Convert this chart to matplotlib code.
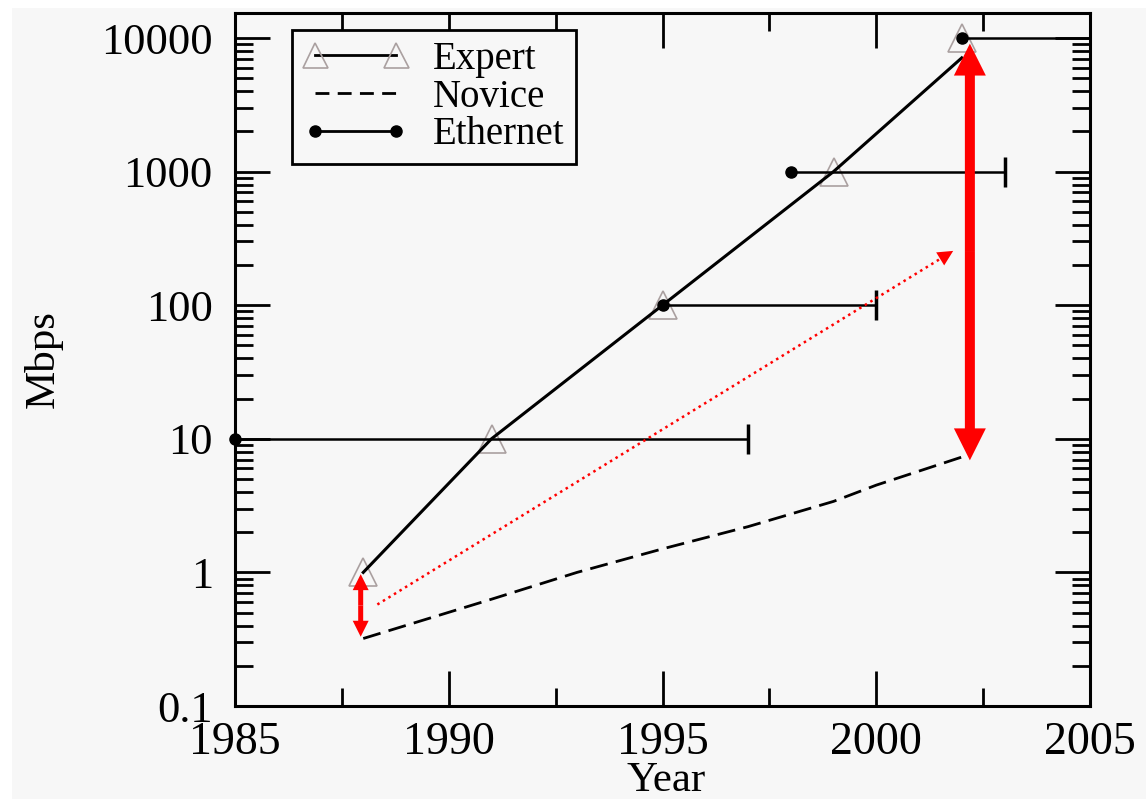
import matplotlib
matplotlib.use("Agg")
import matplotlib.pyplot as plt
from matplotlib.lines import Line2D
from matplotlib.patches import FancyArrowPatch, Rectangle, ArrowStyle
from matplotlib.ticker import MultipleLocator, LogLocator, FuncFormatter, NullFormatter

# ---- data ----
expert_years = [1988, 1991, 1995, 1999, 2002]
expert_mbps = [1, 10, 100, 1000, 10000]
expert_line_years = [1988, 1991, 1995, 1999, 2002]
expert_line_mbps = [1, 10, 100, 1000, 7100]
novice_years = [1988, 1991, 1993, 1995, 1997, 1999, 2000, 2002]
novice_mbps = [0.32, 0.63, 1.0, 1.5, 2.2, 3.4, 4.5, 7.3]
ethernet_start = [1985, 1995, 1998, 2002]
ethernet_end = [1997, 2000, 2003, 2007]
ethernet_mbps = [10, 100, 1000, 10000]
x_ticks = [1985, 1990, 1995, 2000, 2005]
y_ticks = [0.1, 1, 10, 100, 1000, 10000]
legend_labels = ["Expert", "Novice", "Ethernet"]
# red annotations: (x, y_from, y_to)
small_gap = (1987.94, 0.33, 0.97)
big_gap = (2002.19, 6.9, 9080)
trend = ((1988.33, 0.575), (2001.8, 255))

plt.rcParams['font.family'] = ['Liberation Serif', 'DejaVu Serif']
BG = '#f7f7f7'

fig = plt.figure(figsize=(11.46, 7.99), dpi=100, facecolor=BG)
ax = fig.add_axes([235/1146, 1-706/799, 855/1146, 693/799])
ax.set_facecolor(BG)
ax.set_yscale('log')
ax.set_xlim(1985, 2005)
ax.set_ylim(0.1, 15390)

# Ethernet segments
for xs, xe, y in zip(ethernet_start, ethernet_end, ethernet_mbps):
    ax.plot([xs, xe], [y, y], color='black', lw=1.8, zorder=3, solid_capstyle='butt')
    if xe < 2005:
        ax.plot([xe], [y], marker='|', ms=22, mew=2.5, color='black', zorder=3)
# Expert triangles
ax.plot(expert_years, expert_mbps, linestyle='none', marker='^', ms=20,
        mfc='none', mec='#aaa0a0', mew=1.2, zorder=2, clip_on=False)
# Expert line
ax.plot(expert_line_years, expert_line_mbps, color='black', lw=2.2, zorder=4)
# Novice line
ax.plot(novice_years, novice_mbps, color='black', lw=2.0, dashes=(6.5, 3), zorder=4)
# Ethernet dots
ax.plot(ethernet_start, ethernet_mbps, linestyle='none', marker='o', ms=8,
        color='black', zorder=5, clip_on=False)


def double_arrow(x, y0, y1, tail, head_w, head_l):
    ymid = (y0 * y1) ** 0.5
    style = ArrowStyle('simple', head_length=head_l, head_width=head_w, tail_width=tail)
    for yend in (y0, y1):
        ax.add_patch(FancyArrowPatch((x, ymid), (x, yend), arrowstyle=style,
                                     mutation_scale=1, facecolor='red', edgecolor='none',
                                     lw=0, shrinkA=0, shrinkB=0, zorder=6))


double_arrow(big_gap[0], big_gap[1], big_gap[2], 7.2, 23, 23)
double_arrow(small_gap[0], small_gap[1], small_gap[2], 3.6, 11.5, 11.5)

# dotted trend arrow
ax.plot([trend[0][0], trend[1][0]], [trend[0][1], trend[1][1]], color='red', lw=1.8,
        linestyle=(0, (1, 1.6)), zorder=6)
ax.add_patch(FancyArrowPatch(trend[0], trend[1],
                             arrowstyle=ArrowStyle('simple', head_length=11, head_width=11,
                                                   tail_width=0.01),
                             mutation_scale=1, facecolor='red', edgecolor='none', lw=0,
                             shrinkA=0, shrinkB=0, zorder=6))

# Axes styling
for s in ax.spines.values():
    s.set_linewidth(2.2)
ax.xaxis.set_minor_locator(MultipleLocator(2.5))
ax.set_xticks(x_ticks)
ax.yaxis.set_minor_locator(LogLocator(base=10, subs=range(2, 10), numticks=50))
ax.set_yticks(y_ticks)
ax.yaxis.set_major_formatter(FuncFormatter(lambda v, p: '%g' % v))
ax.yaxis.set_minor_formatter(NullFormatter())
ax.set_ylim(0.1, 15390)
ax.tick_params(which='both', direction='in', top=True, right=True, width=2.0)
ax.tick_params(which='major', length=25)
ax.tick_params(which='minor', length=13)
ax.tick_params(axis='x', which='major', pad=11, labelsize=33)
ax.tick_params(axis='y', which='major', pad=16, labelsize=32)

ax.set_xlabel('Year', fontsize=31)
ax.set_ylabel('Mbps', fontsize=31)
ax.xaxis.set_label_coords(0.504, -0.1075)
ax.xaxis.label.set_verticalalignment('center')
ax.yaxis.set_label_coords(-0.2246, 0.5)
ax.yaxis.label.set_verticalalignment('center')

# Legend
handles = [
    Line2D([], [], color='black', lw=2.0, marker='^', ms=18, mfc='none', mec='#aaa0a0', mew=1.2),
    Line2D([], [], color='black', lw=2.0, dashes=(5, 3)),
    Line2D([], [], color='black', lw=2.0, marker='o', ms=8),
]
leg = ax.legend(handles, legend_labels, loc='upper left', bbox_to_anchor=(0.0667, 0.9755),
                borderaxespad=0, fontsize=28, numpoints=2, handlelength=2.7, handletextpad=0.65,
                labelspacing=0.02, borderpad=0.28, fancybox=False, frameon=True,
                facecolor=BG, edgecolor='black', framealpha=1)
leg.get_frame().set_linewidth(2.0)
leg.set_zorder(7)

# white border strips seen in the reference
fig.patches.append(Rectangle((0, 0), 12/1146, 1, transform=fig.transFigure,
                             facecolor='white', edgecolor='none', zorder=-1))
fig.patches.append(Rectangle((0, 1-8/799), 1, 8/799, transform=fig.transFigure,
                             facecolor='white', edgecolor='none', zorder=-1))

fig.savefig('out.png', dpi=100, facecolor=BG)
